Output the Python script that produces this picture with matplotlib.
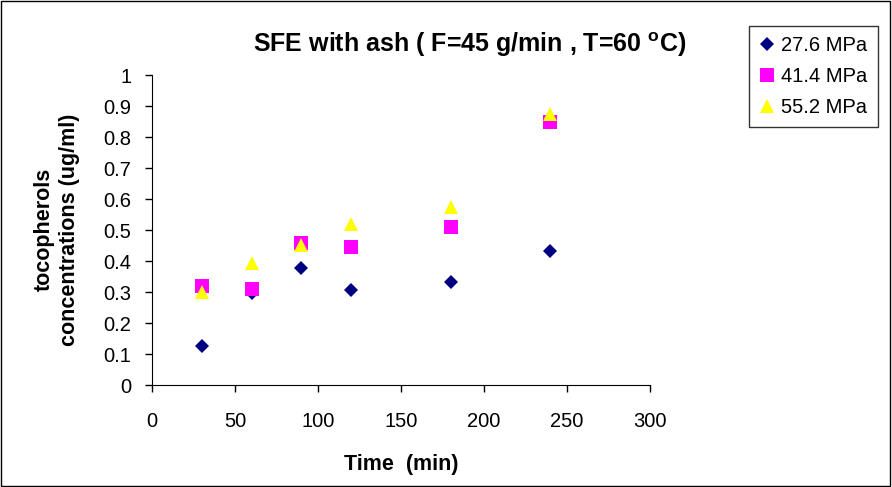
import matplotlib.pyplot as plt
from matplotlib.patches import Rectangle

plt.rcParams['font.family'] = ['Liberation Sans', 'DejaVu Sans']

time_min = [30, 60, 90, 120, 180, 240]
p276 = [0.127, 0.297, 0.377, 0.306, 0.334, 0.433]
p414 = [0.320, 0.312, 0.458, 0.447, 0.512, 0.850]
p552 = [0.302, 0.393, 0.452, 0.520, 0.574, 0.875]

fig = plt.figure(figsize=(8.92, 4.87), dpi=100)
ax = fig.add_axes([0.1704, 0.2088, 0.5583, 0.6366])

ax.plot(time_min, p276, linestyle='none', marker='D', ms=7.2, color='#000080',
        markeredgewidth=0, label='27.6 MPa', clip_on=False)
ax.plot(time_min, p414, linestyle='none', marker='s', ms=9.4, color='#FF00FF',
        markeredgewidth=0, label='41.4 MPa', clip_on=False)
ax.plot(time_min, p552, linestyle='none', marker='^', ms=10.5, color='#FFFF00',
        markeredgewidth=0, label='55.2 MPa', clip_on=False)

ax.set_xlim(0, 300)
ax.set_ylim(0, 1)
ax.set_xticks(range(0, 301, 50))
ax.set_yticks([i / 10 for i in range(11)])
ax.set_yticklabels(['0', '0.1', '0.2', '0.3', '0.4', '0.5', '0.6', '0.7', '0.8', '0.9', '1'])
ax.spines['top'].set_visible(False)
ax.spines['right'].set_visible(False)
ax.tick_params(direction='out', length=5, width=1, labelsize=14.5, color='black')
ax.tick_params(axis='x', pad=14)
ax.tick_params(axis='y', pad=10)

fig.text(0.4496, 0.035, 'Time  (min)', ha='center', va='baseline',
         fontsize=15.5, fontweight='bold')
fig.text(0.064, 0.528, 'tocopherols\nconcentrations (ug/ml)', ha='center', va='center',
         rotation=90, multialignment='center', linespacing=1.3,
         fontsize=15.5, fontweight='bold')
fig.text(0.527, 0.893, r'SFE with ash ( F=45 g/min , T=60 $^{\mathregular{o}}$C)',
         ha='center', va='baseline', fontsize=18, fontweight='bold')

leg = fig.legend(loc='upper left', bbox_to_anchor=(0.8397, 0.9466), fontsize=14.5,
                 frameon=True, fancybox=False, handlelength=0.8, handletextpad=0.3,
                 borderpad=0.5, labelspacing=0.6, borderaxespad=0)
leg.get_frame().set_edgecolor('black')
leg.get_frame().set_linewidth(1)

fig.patches.append(Rectangle((0.001, 0.002), 0.997, 0.996, transform=fig.transFigure,
                             fill=False, edgecolor='black', linewidth=1))

fig.savefig('out.png', dpi=100)
